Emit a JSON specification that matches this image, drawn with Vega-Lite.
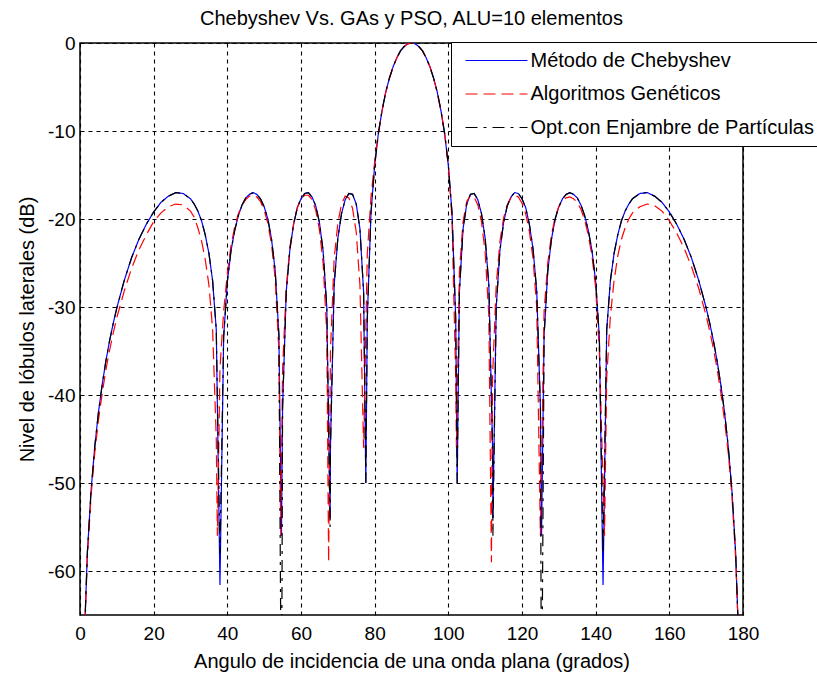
{
"$schema": "https://vega.github.io/schema/vega-lite/v6.json",
"width": 663, "height": 572,
"autosize": {"type": "none"},
"padding": {"left": 80, "top": 43, "right": 74, "bottom": 64},
"background": "white",
"title": {"text": "Chebyshev Vs. GAs y PSO, ALU=10 elementos", "fontSize": 20, "font": "Liberation Sans", "fontWeight": "normal", "offset": 5, "color": "black"},
"data": {"values": [
{"x":0,"c":-80,"g":-80,"p":-80},{"x":1,"c":-70,"g":-70,"p":-70},{"x":2,"c":-57.9,"g":-58.5,"p":-57.9},{"x":3,"c":-50.9,"g":-51.5,"p":-50.9},
{"x":4,"c":-45.9,"g":-46.6,"p":-45.9},{"x":5,"c":-42.0,"g":-42.9,"p":-42.0},{"x":6,"c":-38.9,"g":-39.9,"p":-38.9},{"x":7,"c":-36.2,"g":-37.2,"p":-36.2},
{"x":8,"c":-33.9,"g":-35.0,"p":-33.9},{"x":9,"c":-31.9,"g":-33.0,"p":-31.9},{"x":10,"c":-30.1,"g":-31.2,"p":-30.1},{"x":12,"c":-27.0,"g":-28.2,"p":-27.0},
{"x":14,"c":-24.4,"g":-25.6,"p":-24.4},{"x":16,"c":-22.3,"g":-23.5,"p":-22.3},{"x":18,"c":-20.6,"g":-21.8,"p":-20.6},{"x":20,"c":-19.2,"g":-20.3,"p":-19.2},
{"x":22,"c":-18.1,"g":-19.3,"p":-18.1},{"x":24,"c":-17.4,"g":-18.6,"p":-17.4},{"x":26,"c":-17.0,"g":-18.3,"p":-17.0},{"x":28,"c":-17.1,"g":-18.4,"p":-17.1},
{"x":30,"c":-17.7,"g":-19.1,"p":-17.7},{"x":31,"c":-18.3,"g":-19.8,"p":-18.3},{"x":32,"c":-19.1,"g":-21.0,"p":-19.1},{"x":33,"c":-20.2,"g":-22.5,"p":-20.2},
{"x":34,"c":-21.8,"g":-24.6,"p":-21.8},{"x":35,"c":-23.9,"g":-27.5,"p":-23.9},{"x":36,"c":-27.0,"g":-32.5,"p":-27.0},{"x":37,"c":-32.6,"g":-45,"p":-32.6},
{"x":37.3,"c":null,"g":-56,"p":null},{"x":38,"c":-61.6,"g":-37,"p":-58},{"x":39,"c":-33.4,"g":-30.5,"p":-33.4},{"x":40,"c":-27.1,"g":-26.2,"p":-27.1},
{"x":41,"c":-23.6,"g":-23.0,"p":-23.6},{"x":42,"c":-21.3,"g":-20.9,"p":-21.3},{"x":43,"c":-19.6,"g":-19.4,"p":-19.6},{"x":44,"c":-18.4,"g":-18.4,"p":-18.4},
{"x":45,"c":-17.6,"g":-17.8,"p":-17.6},{"x":46,"c":-17.2,"g":-17.4,"p":-17.2},{"x":47,"c":-17.0,"g":-17.3,"p":-17.0},{"x":48,"c":-17.2,"g":-17.5,"p":-17.2},
{"x":49,"c":-17.7,"g":-18.0,"p":-17.7},{"x":50,"c":-18.6,"g":-19.0,"p":-18.6},{"x":51,"c":-20.0,"g":-20.5,"p":-20.0},{"x":52,"c":-22.3,"g":-22.9,"p":-22.3},
{"x":53,"c":-25.9,"g":-26.8,"p":-25.9},{"x":54,"c":-33.2,"g":-35,"p":-33.2},{"x":54.5,"c":null,"g":-56,"p":null},{"x":54.7,"c":-56,"g":null,"p":-80},
{"x":55,"c":-41.4,"g":-37,"p":-41.4},{"x":56,"c":-28.2,"g":-27.8,"p":-28.2},{"x":57,"c":-23.4,"g":-23.2,"p":-23.4},{"x":58,"c":-20.6,"g":-20.5,"p":-20.6},
{"x":59,"c":-18.7,"g":-18.7,"p":-18.7},{"x":60,"c":-17.7,"g":-17.7,"p":-17.7},{"x":61,"c":-17.1,"g":-17.3,"p":-17.1},{"x":62,"c":-17.0,"g":-17.3,"p":-17.0},
{"x":63,"c":-17.5,"g":-17.8,"p":-17.5},{"x":64,"c":-18.5,"g":-19.0,"p":-18.5},{"x":65,"c":-20.4,"g":-21.2,"p":-20.4},{"x":66,"c":-23.6,"g":-25.0,"p":-23.6},
{"x":67,"c":-30.0,"g":-33,"p":-30.0},{"x":67.5,"c":null,"g":-59,"p":null},{"x":67.9,"c":-54,"g":null,"p":-55},{"x":68,"c":-45.9,"g":-35,"p":-45.9},
{"x":69,"c":-27.5,"g":-24.5,"p":-27.5},{"x":70,"c":-22.2,"g":-20.5,"p":-22.2},{"x":71,"c":-19.4,"g":-18.3,"p":-19.4},{"x":72,"c":-17.8,"g":-17.4,"p":-17.8},
{"x":73,"c":-17.1,"g":-17.6,"p":-17.1},{"x":74,"c":-17.2,"g":-18.8,"p":-17.2},{"x":75,"c":-18.3,"g":-21.5,"p":-18.3},{"x":76,"c":-21.1,"g":-27.5,"p":-21.1},
{"x":77,"c":-28.3,"g":-46,"p":-28.3},{"x":77.6,"c":-50,"g":null,"p":-50},{"x":78,"c":-31.3,"g":-24,"p":-31.3},{"x":79,"c":-19.3,"g":-17.5,"p":-19.3},
{"x":80,"c":-13.9,"g":-13.5,"p":-13.9},{"x":81,"c":-10.3,"g":-10.2,"p":-10.3},{"x":82,"c":-7.7,"g":-7.7,"p":-7.7},{"x":83,"c":-5.6,"g":-5.6,"p":-5.6},
{"x":84,"c":-4.0,"g":-4.0,"p":-4.0},{"x":85,"c":-2.7,"g":-2.7,"p":-2.7},{"x":86,"c":-1.7,"g":-1.7,"p":-1.7},{"x":87,"c":-0.9,"g":-0.9,"p":-0.9},
{"x":88,"c":-0.4,"g":-0.4,"p":-0.4},{"x":89,"c":-0.1,"g":-0.1,"p":-0.1},{"x":90,"c":0,"g":0,"p":0},{"x":91,"c":-0.1,"g":-0.1,"p":-0.1},
{"x":92,"c":-0.4,"g":-0.4,"p":-0.4},{"x":93,"c":-0.9,"g":-0.9,"p":-0.9},{"x":94,"c":-1.7,"g":-1.7,"p":-1.7},{"x":95,"c":-2.7,"g":-2.7,"p":-2.7},
{"x":96,"c":-4.0,"g":-4.0,"p":-4.0},{"x":97,"c":-5.6,"g":-5.6,"p":-5.6},{"x":98,"c":-7.7,"g":-7.7,"p":-7.7},{"x":99,"c":-10.3,"g":-10.3,"p":-10.3},
{"x":100,"c":-13.9,"g":-13.9,"p":-13.9},{"x":101,"c":-19.3,"g":-20,"p":-19.3},{"x":102,"c":-31.3,"g":-38,"p":-31.3},{"x":102.2,"c":null,"g":-46,"p":null},
{"x":102.4,"c":-50,"g":null,"p":-50},{"x":103,"c":-28.3,"g":-26,"p":-28.3},{"x":104,"c":-21.1,"g":-20.3,"p":-21.1},{"x":105,"c":-18.3,"g":-18.0,"p":-18.3},
{"x":106,"c":-17.2,"g":-17.3,"p":-17.2},{"x":107,"c":-17.1,"g":-17.5,"p":-17.1},{"x":108,"c":-17.8,"g":-18.4,"p":-17.8},{"x":109,"c":-19.4,"g":-20.3,"p":-19.4},
{"x":110,"c":-22.2,"g":-23.8,"p":-22.2},{"x":111,"c":-27.5,"g":-31,"p":-27.5},{"x":111.7,"c":null,"g":-59,"p":null},{"x":112,"c":-45.9,"g":-38,"p":-45.9},
{"x":112.1,"c":-54,"g":null,"p":-56},{"x":113,"c":-30.0,"g":-27.5,"p":-30.0},{"x":114,"c":-23.6,"g":-22.6,"p":-23.6},{"x":115,"c":-20.4,"g":-19.9,"p":-20.4},
{"x":116,"c":-18.5,"g":-18.4,"p":-18.5},{"x":117,"c":-17.5,"g":-17.6,"p":-17.5},{"x":118,"c":-17.0,"g":-17.3,"p":-17.0},{"x":119,"c":-17.1,"g":-17.5,"p":-17.1},
{"x":120,"c":-17.7,"g":-18.2,"p":-17.7},{"x":121,"c":-18.7,"g":-19.4,"p":-18.7},{"x":122,"c":-20.6,"g":-21.4,"p":-20.6},{"x":123,"c":-23.4,"g":-24.5,"p":-23.4},
{"x":124,"c":-28.2,"g":-30,"p":-28.2},{"x":125,"c":-41.4,"g":-56,"p":-41.4},{"x":125.3,"c":-56,"g":null,"p":-80},{"x":126,"c":-33.2,"g":-30.5,"p":-33.2},
{"x":127,"c":-25.9,"g":-25,"p":-25.9},{"x":128,"c":-22.3,"g":-21.8,"p":-22.3},{"x":129,"c":-20.0,"g":-19.8,"p":-20.0},{"x":130,"c":-18.6,"g":-18.6,"p":-18.6},
{"x":131,"c":-17.7,"g":-17.9,"p":-17.7},{"x":132,"c":-17.2,"g":-17.6,"p":-17.2},{"x":133,"c":-17.0,"g":-17.5,"p":-17.0},{"x":134,"c":-17.2,"g":-17.7,"p":-17.2},
{"x":135,"c":-17.6,"g":-18.1,"p":-17.6},{"x":136,"c":-18.4,"g":-18.9,"p":-18.4},{"x":137,"c":-19.6,"g":-20.1,"p":-19.6},{"x":138,"c":-21.3,"g":-21.8,"p":-21.3},
{"x":139,"c":-23.6,"g":-24.2,"p":-23.6},{"x":140,"c":-27.1,"g":-27.8,"p":-27.1},{"x":141,"c":-33.4,"g":-35,"p":-33.4},{"x":142,"c":-61.6,"g":null,"p":-58},
{"x":142.4,"c":null,"g":-56,"p":null},{"x":143,"c":-32.6,"g":-38,"p":-32.6},{"x":144,"c":-27.0,"g":-31,"p":-27.0},{"x":145,"c":-23.9,"g":-27,"p":-23.9},
{"x":146,"c":-21.8,"g":-24.2,"p":-21.8},{"x":147,"c":-20.2,"g":-22.3,"p":-20.2},{"x":148,"c":-19.1,"g":-21.0,"p":-19.1},{"x":149,"c":-18.3,"g":-20.0,"p":-18.3},
{"x":150,"c":-17.7,"g":-19.3,"p":-17.7},{"x":152,"c":-17.1,"g":-18.6,"p":-17.1},{"x":154,"c":-17.0,"g":-18.3,"p":-17.0},{"x":156,"c":-17.4,"g":-18.5,"p":-17.4},
{"x":158,"c":-18.1,"g":-19.1,"p":-18.1},{"x":160,"c":-19.2,"g":-20.2,"p":-19.2},{"x":162,"c":-20.6,"g":-21.6,"p":-20.6},{"x":164,"c":-22.3,"g":-23.3,"p":-22.3},
{"x":166,"c":-24.4,"g":-25.4,"p":-24.4},{"x":168,"c":-27.0,"g":-27.9,"p":-27.0},{"x":170,"c":-30.1,"g":-31.0,"p":-30.1},{"x":171,"c":-31.9,"g":-32.8,"p":-31.9},
{"x":172,"c":-33.9,"g":-34.8,"p":-33.9},{"x":173,"c":-36.2,"g":-37.1,"p":-36.2},{"x":174,"c":-38.9,"g":-39.8,"p":-38.9},{"x":175,"c":-42.0,"g":-42.9,"p":-42.0},
{"x":176,"c":-45.9,"g":-46.6,"p":-45.9},{"x":177,"c":-50.9,"g":-51.5,"p":-50.9},{"x":178,"c":-57.9,"g":-58.5,"p":-57.9},{"x":179,"c":-70,"g":-70,"p":-70},
{"x":180,"c":-80,"g":-80,"p":-80}
]},
"transform": [{"fold": ["c", "g", "p"], "as": ["s", "v"]}, {"filter": "isValid(datum.v)"}],
"mark": {"type": "line", "clip": true, "strokeWidth": 1.2},
"encoding": {
  "x": {"field": "x", "type": "quantitative", "scale": {"domain": [0, 180], "nice": false},
        "axis": {"values": [0,20,40,60,80,100,120,140,160,180], "title": "Angulo de incidencia de una onda plana (grados)", "labelFlush": false, "labelPadding": 9, "titlePadding": 8}},
  "y": {"field": "v", "type": "quantitative", "scale": {"domain": [-65, 0], "nice": false, "zero": false},
        "axis": {"values": [-60,-50,-40,-30,-20,-10,0], "title": "Nivel de lóbulos laterales (dB)", "labelExpr": "'' + datum.value", "labelFlush": false, "labelPadding": 5, "titlePadding": 10}},
  "color": {"field": "s", "type": "nominal", "scale": {"domain": ["c", "g", "p"], "range": ["#0000ff", "#ff0000", "#000000"]},
        "legend": {"orient": "none", "legendX": 371, "legendY": -1, "title": null, "symbolType": "stroke", "symbolSize": 3844, "symbolStrokeWidth": 1.2,
                   "labelFontSize": 20, "labelFont": "Liberation Sans", "labelColor": "black", "labelLimit": 400, "padding": 8.5, "rowPadding": 13.5, "clipHeight": 20,
                   "labelOffset": 2, "symbolOffset": 5, "strokeColor": "black", "fillColor": "white",
                   "labelExpr": "datum.value == 'c' ? 'Método de Chebyshev' : datum.value == 'g' ? 'Algoritmos Genéticos' : 'Opt.con Enjambre de Partículas'"}},
  "strokeDash": {"field": "s", "type": "nominal", "scale": {"domain": ["c", "g", "p"], "range": [[1, 0], [12, 6], [12, 6, 3, 6]]},
        "legend": {"orient": "none", "legendX": 371, "legendY": -1, "title": null, "symbolType": "stroke", "symbolSize": 3844, "symbolStrokeWidth": 1.2,
                   "labelFontSize": 20, "labelFont": "Liberation Sans", "labelColor": "black", "labelLimit": 400, "padding": 8.5, "rowPadding": 13.5, "clipHeight": 20,
                   "labelOffset": 2, "symbolOffset": 5, "strokeColor": "black", "fillColor": "white",
                   "labelExpr": "datum.value == 'c' ? 'Método de Chebyshev' : datum.value == 'g' ? 'Algoritmos Genéticos' : 'Opt.con Enjambre de Partículas'"}}
},
"config": {
  "view": {"stroke": "black", "strokeWidth": 1.5},
  "axis": {"labelFont": "Liberation Sans", "titleFont": "Liberation Sans", "labelFontSize": 19, "titleFontSize": 20, "labelColor": "black", "titleColor": "black",
           "titleFontWeight": "normal", "grid": true, "gridColor": "black", "gridDash": [4, 4], "gridOpacity": 1, "gridWidth": 1.1,
           "domain": false, "ticks": false}
}
}
